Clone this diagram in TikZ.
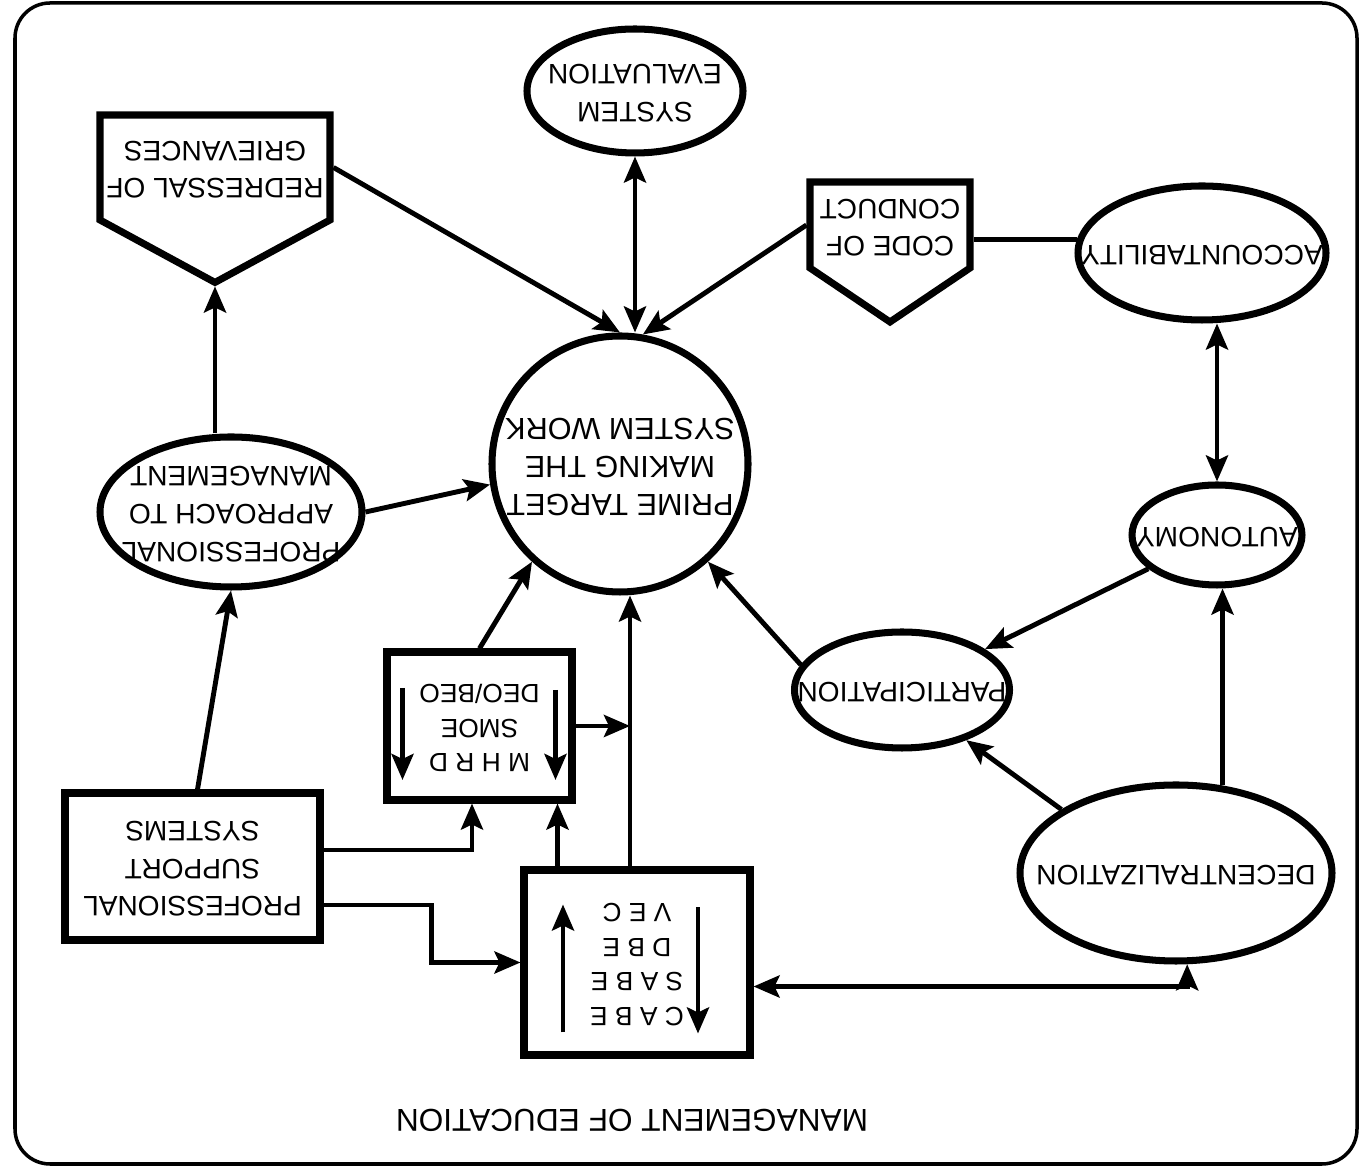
\documentclass[tikz,border=0pt]{standalone}
\usepackage{fontspec}
\setmainfont{Liberation Sans}
\usetikzlibrary{shapes.geometric,shapes.symbols,arrows.meta}

% the whole sheet is printed upside down
\newsavebox\flipbox
\newcommand{\updown}[1]{\sbox\flipbox{\rotatebox[origin=c]{180}{\begin{tabular}{@{}c@{}}#1\end{tabular}}}%
  \makebox[0pt]{\raisebox{\dimexpr(\dp\flipbox-\ht\flipbox)/2\relax}[0pt][0pt]{\usebox\flipbox}}}

\tikzset{
  bubble/.style={draw, ellipse, line width=2pt, inner sep=0pt, font=\fontsize{8}{10.8}\selectfont},
  box/.style={draw, rectangle, line width=2pt, inner sep=0pt, font=\fontsize{7.5}{9.8}\selectfont},
  house/.style={draw, signal, signal to=south, signal from=nowhere, line width=2pt, inner sep=0pt, font=\fontsize{8}{10.5}\selectfont},
  arr/.style={line width=1.4pt, >={Stealth[length=2.6mm,width=2.2mm,inset=0.5mm]}, ->},
  link/.style={line width=1.4pt},
}

\begin{document}
\begin{tikzpicture}
\useasboundingbox (0,0) rectangle (13.62,-11.76);
\draw[line width=1pt, rounded corners=0.35cm] (0.15,-0.03) rectangle (13.57,-11.64);

\node[bubble, minimum width=2.16cm, minimum height=1.24cm] (eval) at (6.35,-0.91) {\updown{SYSTEM\\EVALUATION}};
\node[house, minimum width=2.3cm, minimum height=1.05cm, signal pointer angle=123] (redress) at (2.15,-1.675) {\updown{REDRESSAL OF\\GRIEVANCES}};
\node[house, minimum width=1.6cm, minimum height=0.86cm, signal pointer angle=112] (code) at (8.9,-2.25) {\updown{CODE OF\\CONDUCT}};
\node[bubble, minimum width=2.48cm, minimum height=1.34cm] (acct) at (12.02,-2.53) {\updown{ACCOUNTABILITY}};
\node[bubble, circle, minimum size=2.56cm, font=\fontsize{8.7}{10.8}\selectfont] (prime) at (6.2,-4.64) {\updown{PRIME TARGET\\MAKING THE\\SYSTEM WORK}};
\node[bubble, minimum width=2.62cm, minimum height=1.5cm] (appr) at (2.31,-5.12) {\updown{PROFESSIONAL\\APPROACH TO\\MANAGEMENT}};
\node[bubble, minimum width=1.7cm, minimum height=1.0cm] (auto) at (12.17,-5.35) {\updown{AUTONOMY}};
\node[bubble, minimum width=2.15cm, minimum height=1.16cm] (part) at (9.02,-6.9) {\updown{PARTICIPATION}};
\node[bubble, minimum width=3.12cm, minimum height=1.76cm] (decen) at (11.76,-8.73) {\updown{DECENTRALIZATION}};
\node[box, minimum width=1.85cm, minimum height=1.48cm] (mhrd) at (4.795,-7.26) {\updown{M H R D\\SMOE\\DEO/BEO}};
\node[box, minimum width=2.26cm, minimum height=1.85cm] (cabe) at (6.37,-9.625) {\updown{C A B E\\S A B E\\D B E\\V E C}};
\node[box, minimum width=2.55cm, minimum height=1.47cm, font=\fontsize{8}{10.6}\selectfont] (pss) at (1.925,-8.665) {\updown{PROFESSIONAL\\SUPPORT\\SYSTEMS}};
\node[font=\fontsize{9}{11}\selectfont] (title) at (6.32,-11.17) {\updown{MANAGEMENT OF EDUCATION}};

\coordinate (trunk) at (6.30,-8.70);

\draw[arr, <->] (eval.south) -- (eval.south |- prime.north);
\draw[arr] (redress.east) -- (prime.north);
\draw[arr] (code.west) -- (prime.80);
\draw[link] (acct.174) -- (acct.174 -| code.east);
\draw[arr, <->] (auto.north |- acct.south) -- (auto.north);
\draw[arr] (auto) -- (part);
\draw[arr] (part.166) -- (prime.-48);
\draw[arr] (decen.62.5) -- (decen.62.5 |- auto.south);
\draw[arr] (decen.151) -- (part.-38);
\draw[arr, <->] ([yshift=-0.24cm]cabe.east) -| (decen.-83);
\draw[arr] (trunk) -- (trunk |- prime.south);
\draw[arr] (mhrd.east) -- (mhrd.east -| trunk);
\draw[arr] ([xshift=0.78cm]mhrd.south |- cabe.north) -- ([xshift=0.78cm]mhrd.south);
\draw[arr] (mhrd.north) -- (prime.-132);
\draw[arr] ([yshift=0.165cm]pss.east) -| ([xshift=-0.075cm]mhrd.south);
\draw[arr] ([yshift=-0.385cm]pss.east) -- ++(1.08,0) |- (cabe.west);
\draw[arr] ([xshift=0.05cm]pss.north) -- (appr.south);
\draw[arr] (redress.south |- appr.north) -- (redress.south);
\draw[arr] (appr.east) -- (prime.189);

% arrows inside the boxes
\draw[arr] ([xshift=-0.77cm,yshift=0.38cm]mhrd.center) -- ++(0,-0.92);
\draw[arr] ([xshift=0.76cm,yshift=0.36cm]mhrd.center) -- ++(0,-0.9);
\draw[arr] ([xshift=-0.74cm,yshift=-0.70cm]cabe.center) -- ++(0,1.28);
\draw[arr] ([xshift=0.61cm,yshift=0.55cm]cabe.center) -- ++(0,-1.26);
\end{tikzpicture}
\end{document}
